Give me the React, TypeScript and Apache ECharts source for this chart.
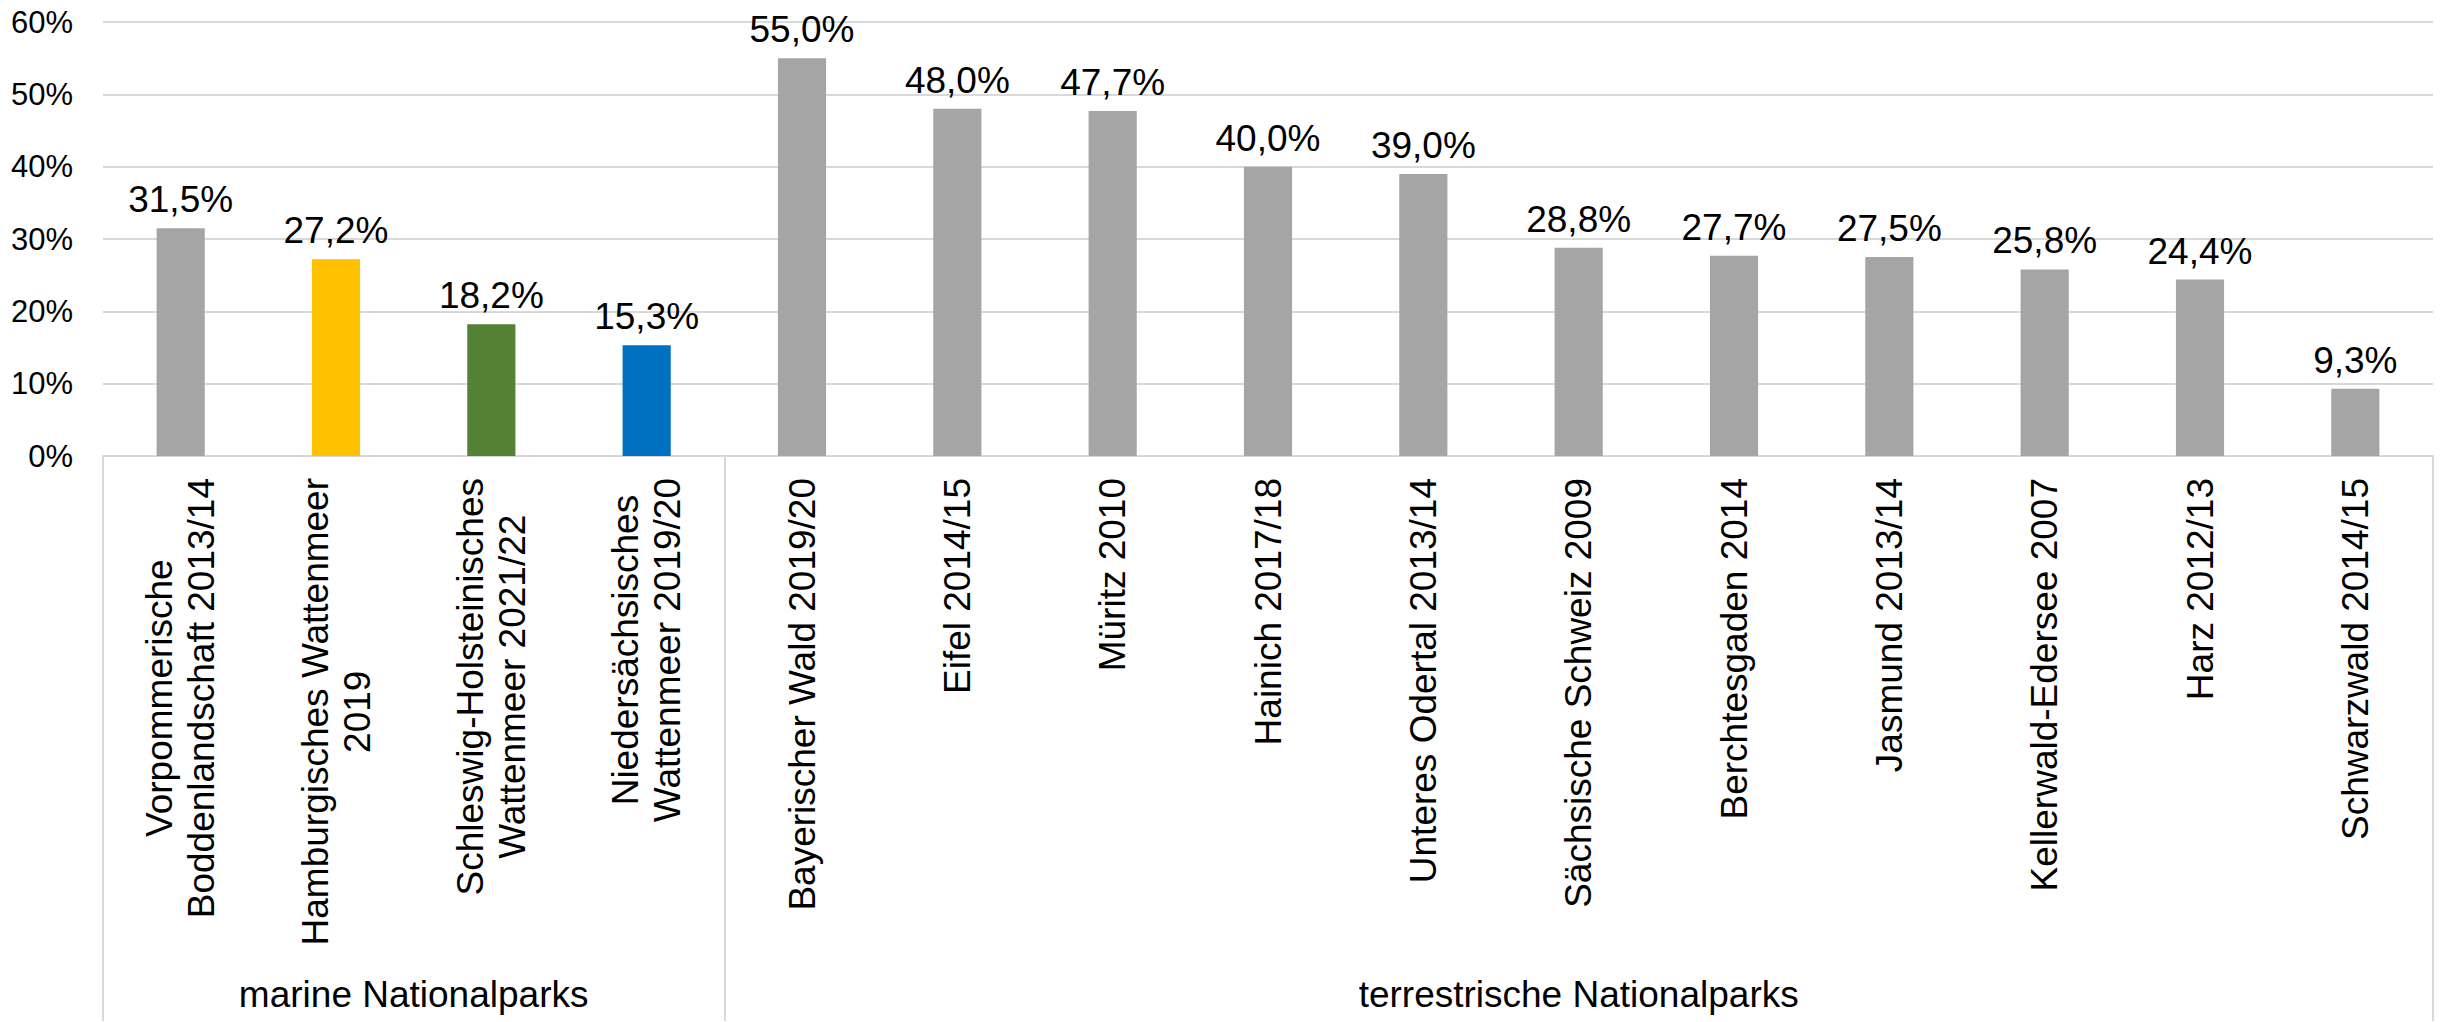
import React, { useEffect, useRef } from "react";
import * as echarts from "echarts";

const categories = [
  "Vorpommerische\nBoddenlandschaft 2013/14",
  "Hamburgisches Wattenmeer\n2019",
  "Schleswig-Holsteinisches\nWattenmeer 2021/22",
  "Niedersächsisches\nWattenmeer 2019/20",
  "Bayerischer Wald 2019/20",
  "Eifel 2014/15",
  "Müritz 2010",
  "Hainich 2017/18",
  "Unteres Odertal 2013/14",
  "Sächsische Schweiz 2009",
  "Berchtesgaden 2014",
  "Jasmund 2013/14",
  "Kellerwald-Edersee 2007",
  "Harz 2012/13",
  "Schwarzwald 2014/15",
];

const values = [31.5, 27.2, 18.2, 15.3, 55.0, 48.0, 47.7, 40.0, 39.0, 28.8, 27.7, 27.5, 25.8, 24.4, 9.3];

const groupNames = ["marine Nationalparks", "terrestrische Nationalparks"];
const groupSizes = [4, 11];

const yMin = 0;
const yMax = 60;
const yInterval = 10;

const GRAY = "#A5A5A5";
const barColors = [GRAY, "#FFC000", "#548235", "#0070C0", GRAY, GRAY, GRAY, GRAY, GRAY, GRAY, GRAY, GRAY, GRAY, GRAY, GRAY];

const FONT = "'Liberation Sans', Arial, sans-serif";
const LINE = "#D9D9D9";

export default function App() {
  const ref = useRef<HTMLDivElement>(null);

  useEffect(() => {
    if (!ref.current) return;
    const chart = echarts.init(ref.current, undefined, { renderer: "svg" });

    // group boundaries and centers on a 0..N value scale
    const boundaries: number[] = [0];
    const centers: number[] = [];
    let acc = 0;
    groupSizes.forEach((s) => {
      centers.push(acc + s / 2);
      acc += s;
      boundaries.push(acc);
    });

    const option: any = {
      animation: false,
      backgroundColor: "#ffffff",
      textStyle: { fontFamily: FONT },
      grid: { left: 103, right: 10, top: 22, bottom: 566, containLabel: false },
      xAxis: [
        {
          type: "category",
          data: categories,
          position: "bottom",
          axisLine: { show: true, lineStyle: { color: LINE, width: 2 } },
          axisTick: { show: false },
          axisLabel: {
            interval: 0,
            rotate: 90,
            margin: 22,
            color: "#000",
            fontFamily: FONT,
            fontSize: 37,
            lineHeight: 42,
            formatter: (v: string) =>
              v
                .split("\n")
                .map((l) => `{c|${l}}`)
                .join("\n"),
            rich: {
              c: { align: "center", fontSize: 37, lineHeight: 42, color: "#000", fontFamily: FONT },
            },
          },
        },
        {
          type: "value",
          min: 0,
          max: categories.length,
          position: "bottom",
          offset: 565,
          axisLine: { show: false },
          splitLine: { show: false },
          axisTick: {
            show: true,
            inside: true,
            length: 565,
            customValues: boundaries,
            lineStyle: { color: LINE, width: 2 },
          },
          axisLabel: {
            show: true,
            inside: true,
            margin: 8,
            customValues: centers,
            color: "#000",
            fontFamily: FONT,
            fontSize: 37,
            formatter: (v: number) => {
              const i = centers.findIndex((c) => Math.abs(c - v) < 1e-6);
              return i >= 0 ? groupNames[i] : "";
            },
          },
        },
      ],
      yAxis: {
        type: "value",
        min: yMin,
        max: yMax,
        interval: yInterval,
        axisLine: { show: false },
        axisTick: { show: false },
        splitLine: { show: true, lineStyle: { color: LINE, width: 2 } },
        axisLabel: {
          margin: 30,
          color: "#000",
          fontFamily: FONT,
          fontSize: 31,
          formatter: (v: number) => `${v}%`,
        },
      },
      series: [
        {
          type: "bar",
          xAxisIndex: 0,
          barWidth: "31%",
          data: values.map((v, i) => ({ value: v, itemStyle: { color: barColors[i] } })),
          label: {
            show: true,
            position: "top",
            distance: 10,
            color: "#000",
            fontFamily: FONT,
            fontSize: 37,
            formatter: (p: any) => `${Number(p.value).toFixed(1).replace(".", ",")}%`,
          },
        },
      ],
    };

    chart.setOption(option);
    return () => chart.dispose();
  }, []);

  return (
    <div
      ref={ref}
      style={{ position: "fixed", left: 0, top: 0, width: 2443, height: 1022, background: "#fff" }}
    />
  );
}
